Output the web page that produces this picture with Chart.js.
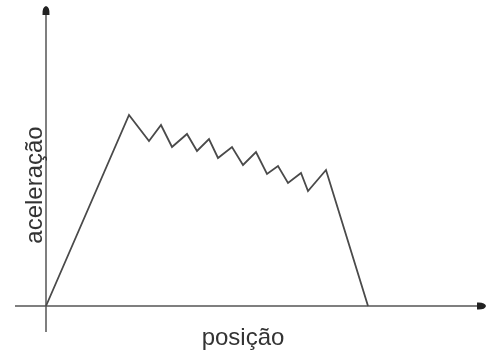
<!DOCTYPE html>
<html>
<head>
<meta charset="utf-8">
<script src="https://cdn.jsdelivr.net/npm/chart.js@4/dist/chart.umd.min.js"></script>
<style>
html,body{margin:0;padding:0;background:#fff;}
#wrap{width:489px;height:354px;position:relative;}
</style>
</head>
<body>
<div id="wrap"><canvas id="c"></canvas></div>
<script>
// Position (x) and acceleration (y) in arbitrary units
const posicao = [0, 8.3, 10.3, 11.5, 12.6, 14.1, 15.1, 16.3, 17.2, 18.6, 19.7, 21.0, 22.1, 23.2, 24.2, 25.5, 26.2, 28.0, 32.2];
const aceleracao = [0, 19.1, 16.5, 18.1, 15.9, 17.2, 15.5, 16.7, 14.8, 15.9, 14.1, 15.4, 13.2, 14.0, 12.3, 13.3, 11.5, 13.6, 0];
const xTitle = 'posição';
const yTitle = 'aceleração';
const xRange = [-3.1, 43.8];
const yRange = [-2.6, 29.8];

const points = posicao.map((x, i) => ({x: x, y: aceleracao[i]}));

function arrowHead(ctx, x, y, dir) {
  ctx.save();
  ctx.translate(x, y);
  ctx.rotate(dir);
  ctx.beginPath();
  ctx.moveTo(5, 0);
  ctx.quadraticCurveTo(4, -4, -4, -3.5);
  ctx.lineTo(-4, 3.5);
  ctx.quadraticCurveTo(4, 4, 5, 0);
  ctx.closePath();
  ctx.fill();
  ctx.restore();
}

const axesPlugin = {
  id: 'axesPlugin',
  beforeDatasetsDraw(chart) {
    const {ctx, scales: {x, y}} = chart;
    const x0 = x.getPixelForValue(0), y0 = y.getPixelForValue(0);
    const xl = x.getPixelForValue(xRange[0]), xr = x.getPixelForValue(xRange[1]);
    const yb = y.getPixelForValue(yRange[0]), yt = y.getPixelForValue(yRange[1]);
    ctx.save();
    ctx.strokeStyle = '#555';
    ctx.fillStyle = '#222';
    ctx.lineWidth = 1.5;
    ctx.beginPath();
    ctx.moveTo(xl, y0); ctx.lineTo(xr - 4, y0);
    ctx.moveTo(x0, yb); ctx.lineTo(x0, yt + 4);
    ctx.stroke();
    arrowHead(ctx, xr - 3, y0, 0);
    arrowHead(ctx, x0, yt + 3, -Math.PI / 2);
    ctx.restore();
  },
  afterDraw(chart) {
    const {ctx} = chart;
    ctx.save();
    ctx.fillStyle = '#333';
    ctx.font = '24px "Liberation Sans", Arial, sans-serif';
    ctx.textAlign = 'center';
    ctx.textBaseline = 'alphabetic';
    ctx.fillText(xTitle, 243, 345);
    ctx.translate(42, 185);
    ctx.rotate(-Math.PI / 2);
    ctx.fillText(yTitle, 0, 0);
    ctx.restore();
  }
};

new Chart(document.getElementById('c'), {
  type: 'line',
  data: {
    datasets: [{
      data: points,
      borderColor: '#4a4a4a',
      borderWidth: 1.8,
      pointRadius: 0,
      tension: 0,
      fill: false,
      clip: false
    }]
  },
  options: {
    responsive: true,
    maintainAspectRatio: false,
    animation: false,
    layout: {padding: {left: 15, right: 5, top: 8, bottom: 22}},
    plugins: {legend: {display: false}, tooltip: {enabled: false}},
    scales: {
      x: {type: 'linear', display: false, min: xRange[0], max: xRange[1]},
      y: {type: 'linear', display: false, min: yRange[0], max: yRange[1]}
    }
  },
  plugins: [axesPlugin]
});
</script>
</body>
</html>
